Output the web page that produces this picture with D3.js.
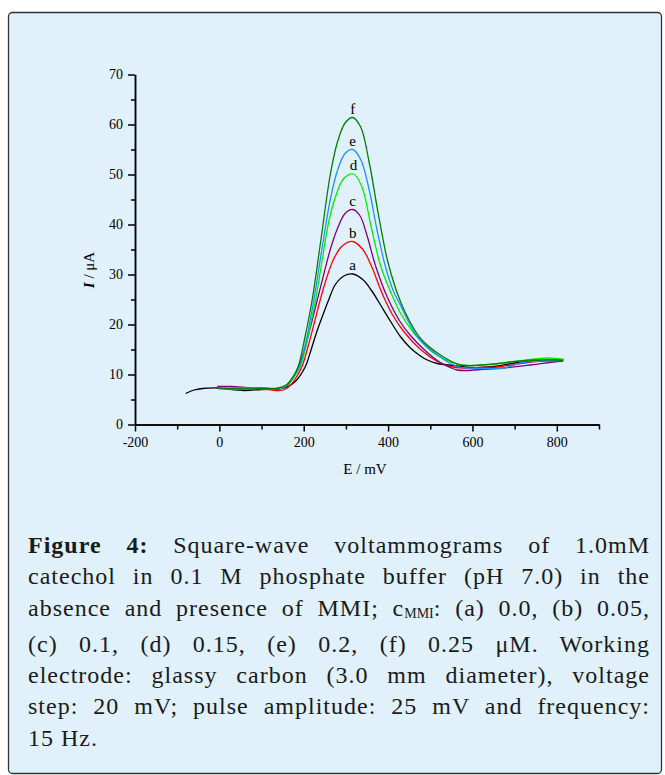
<!DOCTYPE html>
<html>
<head>
<meta charset="utf-8">
<script src="https://cdn.jsdelivr.net/npm/d3@7"></script>
<style>
  body { margin: 0; background: #fff; }
  #display { position: relative; width: 665px; height: 775px; }
  #display svg { position: absolute; left: 0; top: 0; }
  .caption { position: absolute; left: 28px; width: 622px; top: 530px;
    font-family: "Liberation Serif", serif;
    font-size: 24px; letter-spacing: 1px; line-height: 31.3px; color: #1a1a1a; }
  .caption div { text-align: justify; text-align-last: justify; white-space: nowrap; }
  .caption div.last { text-align-last: left; }
  .caption sub { font-size: 14px; letter-spacing: 0; vertical-align: -2px; }
  .axis text { font-family: "Liberation Serif", serif; font-size: 14px; fill: #000; }
  .axis path, .axis line { stroke: #000; stroke-width: 1.5; }
</style>
</head>
<body>
<div id="display"></div>
<script>
// E (mV), I (uA)
var seriesLabels = ["a", "b", "c", "d", "e", "f"];
var seriesColours = ["#000000", "#ff0000", "#800080", "#00ee00", "#1e90ff", "#008000"];

var curveA = [[-80,6.2],[-60,6.9],[-40,7.2],[0,7.3],[30,7.0],[60,6.8],[100,7.0],[140,7.1],[160,7.5],[180,8.6],[204,11.6],[215,14.3],[230,18.3],[245,21.8],[259,24.9],[275,28.0],[295,29.7],[316,30.1],[340,29.0],[360,26.9],[380,24.2],[406,20.6],[429,17.6],[453,15.3],[475,13.8],[493,12.9],[517,12.2],[555,11.8],[600,11.4],[650,11.6],[700,12.3],[750,12.7],[800,12.9],[815,12.8]];
var curveB = [[-2,7.3],[40,7.2],[100,7.1],[125,6.9],[140,6.8],[155,7.0],[170,8.0],[185,9.8],[196,11.6],[210,15.5],[225,20.3],[239,24.9],[255,29.5],[270,32.9],[290,35.6],[316,36.6],[340,35.0],[360,31.8],[386,26.2],[410,22.0],[437,18.6],[477,15.0],[517,12.6],[548,11.6],[580,11.3],[620,11.4],[660,11.5],[700,12.0],[750,12.6],[800,12.8],[815,12.9]];
var curveC = [[-5,7.6],[30,7.6],[60,7.4],[100,7.3],[140,7.2],[160,7.8],[175,9.3],[188,11.6],[200,14.5],[216,19.5],[232,24.9],[248,30.2],[263,35.0],[280,39.2],[298,42.2],[316,43.0],[333,41.8],[350,37.8],[370,31.8],[398,25.5],[429,20.5],[453,17.8],[493,14.4],[524,12.4],[564,10.9],[620,11.0],[675,11.3],[738,11.9],[802,12.6],[815,12.7]];
var curveD = [[-3,7.3],[40,7.0],[80,7.2],[120,7.2],[150,7.3],[165,8.2],[180,9.8],[192,11.6],[205,15.5],[217,20.3],[228,24.9],[243,32.5],[258,40.0],[275,45.5],[295,49.2],[318,50.1],[338,47.5],[360,39.5],[382,31.8],[406,26.5],[429,22.3],[461,18.3],[508,14.3],[540,12.8],[572,11.9],[620,11.9],[675,12.3],[720,12.8],[780,13.3],[817,13.0]];
var curveE = [[-3,7.3],[40,7.3],[100,7.3],[140,7.2],[160,7.9],[175,9.5],[190,11.6],[205,16.5],[224,24.9],[243,35.0],[263,45.0],[280,50.8],[298,54.2],[316,55.0],[335,53.0],[355,47.0],[374,38.8],[393,31.8],[412,26.8],[429,23.9],[469,17.6],[517,13.9],[564,11.6],[620,11.2],[675,11.3],[714,12.3],[760,12.7],[815,12.8]];
var curveF = [[-3,7.2],[40,7.1],[100,7.2],[140,7.3],[160,8.0],[175,9.6],[187,11.6],[203,17.5],[220,24.9],[240,36.5],[263,50.0],[280,56.5],[298,60.3],[316,61.4],[335,59.5],[355,52.5],[377,42.0],[398,33.0],[418,27.2],[440,22.5],[477,17.2],[524,13.9],[572,11.9],[620,11.9],[660,12.2],[700,12.6],[750,12.9],[800,12.9],[815,12.8]];

var xMajor = [-200, 0, 200, 400, 600, 800];
var xMinor = [-100, 100, 300, 500, 700, 900];
var yMajor = [0, 10, 20, 30, 40, 50, 60, 70];
var yMinor = [5, 15, 25, 35, 45, 55, 65];

var captionLines = [
  "<b>Figure 4:</b> Square-wave voltammograms of 1.0mM",
  "catechol in 0.1 M phosphate buffer (pH 7.0) in the",
  "absence and presence of MMI; c<sub>MMI</sub>: (a) 0.0, (b) 0.05,",
  "(c) 0.1, (d) 0.15, (e) 0.2, (f) 0.25 \u03bcM. Working",
  "electrode: glassy carbon (3.0 mm diameter), voltage",
  "step: 20 mV; pulse amplitude: 25 mV and frequency:",
  "15 Hz."
];

var curves = [curveA, curveB, curveC, curveD, curveE, curveF];

var display = d3.select("#display");
var svg = display.append("svg")
    .attr("width", 665)
    .attr("height", 775);

// panel
svg.append("rect")
    .attr("x", 8.5).attr("y", 12.5)
    .attr("width", 653).attr("height", 761)
    .attr("rx", 4)
    .attr("fill", "#e0f1fb")
    .attr("stroke", "#333")
    .attr("stroke-width", 1.3);

var x = d3.scaleLinear().domain([-200, 900]).range([135, 599]);
var y = d3.scaleLinear().domain([0, 70]).range([424.5, 74.5]);

var g = svg.append("g");

g.append("g")
    .attr("class", "axis")
    .attr("transform", "translate(0," + y(0) + ")")
    .call(d3.axisBottom(x).tickValues(xMinor).tickSize(5).tickSizeOuter(0).tickFormat(""));

g.append("g")
    .attr("class", "axis")
    .attr("transform", "translate(0," + y(0) + ")")
    .call(d3.axisBottom(x).tickValues(xMajor).tickSize(7).tickSizeOuter(0).tickPadding(6)
      .tickFormat(function(d) { return String(d); }));

g.append("g")
    .attr("class", "axis")
    .attr("transform", "translate(" + x(-200) + ",0)")
    .call(d3.axisLeft(y).tickValues(yMinor).tickSize(4).tickSizeOuter(0).tickFormat(""));

g.append("g")
    .attr("class", "axis")
    .attr("transform", "translate(" + x(-200) + ",0)")
    .call(d3.axisLeft(y).tickValues(yMajor).tickSize(7).tickSizeOuter(0).tickPadding(5));

// axis titles
g.append("text")
    .attr("x", 365).attr("y", 474)
    .attr("text-anchor", "middle")
    .attr("font-family", "Liberation Serif, serif")
    .attr("font-size", 15)
    .attr("fill", "#000")
    .text("E / mV");

var yt = g.append("text")
    .attr("transform", "translate(94,270) rotate(-90)")
    .attr("text-anchor", "middle")
    .attr("font-family", "Liberation Serif, serif")
    .attr("font-size", 15)
    .attr("fill", "#000");
yt.append("tspan").attr("font-style", "italic").attr("font-weight", "bold").text("I");
yt.append("tspan").text(" / \u03bcA");

var line = d3.line()
    .x(function(d) { return x(d[0]); })
    .y(function(d) { return y(d[1]); })
    .curve(d3.curveCatmullRom.alpha(0.5));

g.append("g")
  .selectAll("path")
  .data(curves)
  .enter().append("path")
    .attr("d", line)
    .attr("fill", "none")
    .attr("stroke", function(d, i) { return seriesColours[i]; })
    .attr("stroke-width", 1.3);

// peak letters
g.append("g")
  .selectAll("text")
  .data(curves)
  .enter().append("text")
    .attr("x", function(d) { return x(d3.greatest(d, function(p) { return p[1]; })[0]); })
    .attr("y", function(d) { return y(d3.max(d, function(p) { return p[1]; })) - 4; })
    .attr("text-anchor", "middle")
    .attr("font-family", "Liberation Serif, serif")
    .attr("font-size", 15)
    .attr("fill", "#000")
    .text(function(d, i) { return seriesLabels[i]; });

var caption = display.append("div").attr("class", "caption");
caption.selectAll("div")
  .data(captionLines)
  .enter().append("div")
    .classed("last", function(d, i) { return i == captionLines.length - 1; })
    .html(function(d) { return d; });
</script>
</body>
</html>
